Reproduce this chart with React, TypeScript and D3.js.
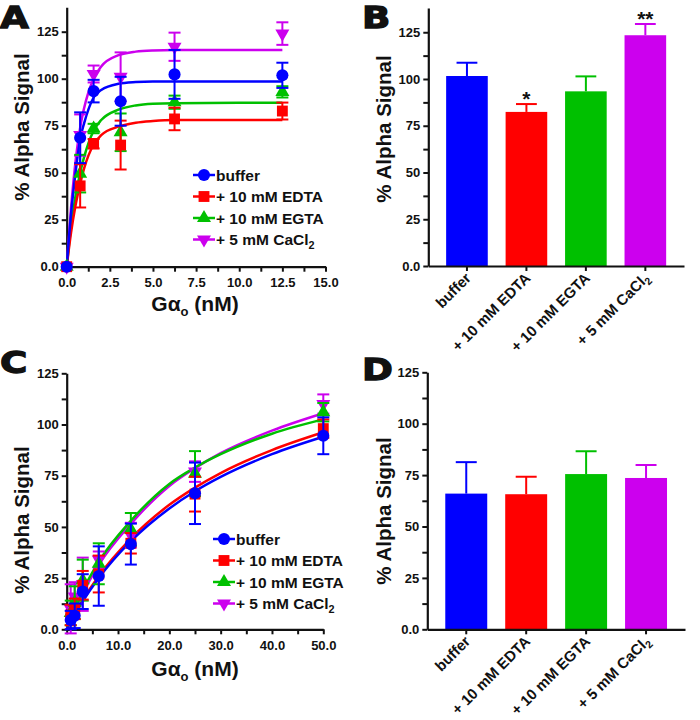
import { useEffect, useRef } from "react";
import * as d3 from "d3";

/** ---- Values ---- **/
const groups = ["buffer", "+ 10 mM EDTA", "+ 10 mM EGTA", "+ 5 mM CaCl2"];
const colors = ["#0000ff", "#ff0000", "#00c000", "#cc00ee"];
const shapes = ["circle", "square", "triangle", "triangleDown"];

// Panel A: titration up to 12.5 nM
const concA = [0, 0.78, 1.56, 3.125, 6.25, 12.5];
const bufferA = [0, 68.6, 93.4, 88, 102.3, 101.8];
const bufferAErr = [0, 13.5, 6, 13, 13, 6.7];
const edtaA = [0, 43, 65.4, 64.7, 78.6, 82.8];
const edtaAErr = [0, 11.5, 2.5, 13, 6, 4.5];
const egtaA = [0, 49.5, 73.5, 71.5, 87.5, 93];
const egtaAErr = [0, 10, 2.5, 10, 3.5, 3];
const cacl2A = [0, 70, 102.5, 101, 117, 124];
const cacl2AErr = [0, 11, 4.5, 13, 7.5, 6];

// fitted curves, panel A (read at these x)
const fitXA = [0, 0.25, 0.5, 0.78, 1, 1.56, 2, 3, 4, 5, 6.25, 12.5];
const bufferFitA = [0, 28, 49, 68, 76, 90, 94, 97.3, 98.2, 98.5, 98.5, 98.5];
const edtaFitA = [0, 18, 32, 44, 52, 65, 70, 74.5, 76.6, 77.5, 78, 78];
const egtaFitA = [0, 21, 37, 50, 58, 72.3, 78, 83.5, 85.8, 86.7, 87, 87.2];
const cacl2FitA = [0, 31, 55, 74, 84, 100, 106.5, 112.5, 114.4, 115, 115.2, 115.2];

// Panel B: bars
const meansB = [101.6, 82.4, 93.4, 123.4];
const errB = [7.1, 4.2, 8, 6];
const sigB = ["", "*", "", "**"];

// Panel C: titration up to 50 nM
const concC = [0.78, 1.56, 3.125, 6.25, 12.5, 25, 50];
const bufferC = [4.5, 6.6, 18.4, 26, 41.6, 66.4, 94.5];
const bufferCErr = [4.5, 6, 8.5, 14.5, 10, 15, 9];
const edtaC = [7, 10, 21.5, 27, 42, 66, 98];
const edtaCErr = [5, 5, 7, 9, 5, 8.5, 4.5];
const egtaC = [8, 13, 24, 32, 48.8, 76, 106];
const egtaCErr = [6, 8, 10, 10, 8, 11, 4.5];
const cacl2C = [10, 16, 22, 34, 46, 77, 110];
const cacl2CErr = [12, 7, 13, 4, 6, 5, 4.7];

const fitXC = [0, 1, 3.125, 6.25, 12.5, 20, 25, 30, 40, 50];
const bufferFitC = [0, 4.6, 13.6, 25, 43, 59, 67.4, 74.4, 85.5, 94];
const edtaFitC = [0, 4.8, 14.2, 26, 44.3, 60.8, 69.2, 76.3, 87.5, 96.2];
const egtaFitC = [0, 6.6, 18.8, 33, 53, 71, 79, 85.5, 95.5, 102.5];
const cacl2FitC = [0, 6, 17.5, 31.5, 51.5, 70, 78.7, 86, 97, 105.5];

// Panel D: bars
const meansD = [66, 65.7, 75.5, 73.6];
const errD = [15.3, 8.5, 11.1, 6.3];
const sigD = ["", "", "", ""];

const FONT = "'Liberation Sans', Arial, Helvetica, sans-serif";
const INK = "#111";

type Sel = d3.Selection<any, any, any, any>;

function addLabel(t: Sel, text: string, subSize = "0.7em") {
  const m = text.match(/^(.*CaCl)2$/);
  if (m) {
    t.append("tspan").text(m[1]);
    t.append("tspan").attr("font-size", subSize).attr("dy", "0.35em").text("2");
  } else t.text(text);
}

function marker(g: Sel, shape: string, color: string, cx: number, cy: number) {
  const types: any = { circle: d3.symbolCircle, square: d3.symbolSquare, triangle: d3.symbolTriangle, triangleDown: d3.symbolTriangle };
  const sizes: any = { circle: 115, square: 118, triangle: 85, triangleDown: 85 };
  g.append("path")
    .attr("d", d3.symbol().type(types[shape]).size(sizes[shape])())
    .attr("fill", color)
    .attr("transform", `translate(${cx},${cy})${shape === "triangleDown" ? " rotate(180)" : ""}`);
}

function styleAxis(g: Sel) {
  g.select(".domain").attr("stroke", INK).attr("stroke-width", 2.2);
  g.selectAll(".tick line").attr("stroke", INK).attr("stroke-width", 2);
  g.selectAll(".tick text").attr("font-family", FONT).attr("font-weight", "bold").attr("font-size", 13).attr("fill", INK);
}

function yAxis(svg: Sel, y: any, x0: number) {
  const g = svg.append("g").attr("transform", `translate(${x0},0)`)
    .call(d3.axisLeft(y).tickValues(d3.range(0, 126, 12.5)).tickSize(5).tickSizeOuter(0).tickPadding(3)
      .tickFormat((d: any) => (d % 25 ? "" : d === 0 ? "0.0" : String(d))));
  styleAxis(g);
}

function yLabel(svg: Sel, x: number, y: number) {
  svg.append("text").attr("transform", `translate(${x},${y}) rotate(-90)`)
    .attr("text-anchor", "middle").attr("font-family", FONT).attr("font-weight", "bold")
    .attr("font-size", 20.5).attr("fill", INK).text("% Alpha Signal");
}

function xLabel(svg: Sel, x: number, y: number) {
  const t = svg.append("text").attr("x", x).attr("y", y).attr("text-anchor", "middle")
    .attr("font-family", FONT).attr("font-weight", "bold").attr("font-size", 21).attr("fill", INK);
  t.append("tspan").text("G\u03b1");
  t.append("tspan").attr("font-size", 13).attr("dy", 5).text("o");
  t.append("tspan").attr("dy", -5).text(" (nM)");
}

function letter(svg: Sel, ch: string, x: number, y: number) {
  svg.append("text").attr("transform", `translate(${x},${y}) scale(1.2,1)`)
    .attr("font-family", "'DejaVu Sans', sans-serif").attr("font-weight", "bold").attr("font-size", 31)
    .attr("fill", INK).attr("stroke", INK).attr("stroke-width", 1.3).text(ch);
}

function curvePanel(svg: Sel, o: any) {
  const { x, y, conc, fitX, vals, errs, fits, xTicks, labelStep, lx, ly } = o;
  const gx = svg.append("g").attr("transform", `translate(0,${y(0)})`)
    .call(d3.axisBottom(x).tickValues(xTicks).tickSize(5).tickSizeOuter(0).tickPadding(6)
      .tickFormat((d: any) => (d % labelStep ? "" : d3.format(".1f")(d))));
  styleAxis(gx);
  yAxis(svg, y, x(0));

  const line = d3.line<number[]>().x(d => x(d[0])).y(d => y(d[1])).curve(d3.curveMonotoneX);
  const order = [3, 2, 1, 0];
  order.forEach(i => {
    svg.append("path").datum(fitX.map((c: number, j: number) => [c, fits[i][j]]))
      .attr("d", line).attr("fill", "none").attr("stroke", colors[i]).attr("stroke-width", 2.5);
  });
  order.forEach(i => {
    const g = svg.append("g");
    conc.forEach((c: number, j: number) => {
      const m = vals[i][j], e = errs[i][j], cx = x(c);
      if (e > 0) {
        g.append("line").attr("x1", cx).attr("x2", cx).attr("y1", y(m - e)).attr("y2", y(m + e))
          .attr("stroke", colors[i]).attr("stroke-width", 2);
        [m - e, m + e].forEach(v => g.append("line").attr("x1", cx - 6).attr("x2", cx + 6)
          .attr("y1", y(v)).attr("y2", y(v)).attr("stroke", colors[i]).attr("stroke-width", 2));
      }
      marker(g, shapes[i], colors[i], cx, y(m));
    });
  });

  groups.forEach((name, i) => {
    const cy = ly + i * 21.5;
    svg.append("line").attr("x1", lx).attr("x2", lx + 22).attr("y1", cy).attr("y2", cy)
      .attr("stroke", colors[i]).attr("stroke-width", 2.5);
    marker(svg, shapes[i], colors[i], lx + 11, cy);
    const t = svg.append("text").attr("x", lx + 23).attr("y", cy + 5.5)
      .attr("font-family", FONT).attr("font-weight", "bold").attr("font-size", 15.5).attr("fill", INK);
    addLabel(t, name);
  });
}

function barPanel(svg: Sel, o: any) {
  const { x0, x1, y, means, errs, sig } = o;
  const xb = d3.scaleBand().domain(groups).range([x0, x1]).padding(0.3);
  const bw = xb.bandwidth();
  groups.forEach((gname, i) => {
    const bx = xb(gname)!, cx = bx + bw / 2;
    svg.append("rect").attr("x", bx).attr("width", bw).attr("y", y(means[i]))
      .attr("height", y(0) - y(means[i])).attr("fill", colors[i]);
    const top = y(means[i] + errs[i]);
    svg.append("line").attr("x1", cx).attr("x2", cx).attr("y1", y(means[i])).attr("y2", top)
      .attr("stroke", colors[i]).attr("stroke-width", 2);
    svg.append("line").attr("x1", cx - bw / 4).attr("x2", cx + bw / 4).attr("y1", top).attr("y2", top)
      .attr("stroke", colors[i]).attr("stroke-width", 2);
    if (sig[i]) {
      svg.append("text").attr("x", cx).attr("y", top + 2).attr("text-anchor", "middle")
        .attr("font-family", FONT).attr("font-weight", "bold").attr("font-size", 21).attr("fill", INK).text(sig[i]);
    }
    const t = svg.append("text").attr("transform", `translate(${cx + 5},${y(0) + 13}) rotate(-45)`)
      .attr("text-anchor", "end").attr("font-family", FONT).attr("font-weight", "bold")
      .attr("font-size", 15).attr("fill", INK);
    addLabel(t, gname);
  });
  const gx = svg.append("g").attr("transform", `translate(0,${y(0)})`)
    .call(d3.axisBottom(xb).tickSize(5).tickSizeOuter(0).tickFormat(() => ""));
  styleAxis(gx);
  yAxis(svg, y, x0);
}

export default function App() {
  const ref = useRef<SVGSVGElement>(null);

  useEffect(() => {
    const svg = d3.select(ref.current);
    svg.selectAll("*").remove();

    // ---- A ----
    const xA = d3.scaleLinear().domain([0, 15]).range([66.7, 325.5]);
    const yA = d3.scaleLinear().domain([0, 138]).range([266.7, 266.7 - 138 * 1.88]);
    curvePanel(svg, {
      x: xA, y: yA, conc: concA, fitX: fitXA,
      vals: [bufferA, edtaA, egtaA, cacl2A],
      errs: [bufferAErr, edtaAErr, egtaAErr, cacl2AErr],
      fits: [bufferFitA, edtaFitA, egtaFitA, cacl2FitA],
      xTicks: d3.range(0, 15.01, 1.25), labelStep: 2.5, lx: 193, ly: 175,
    });
    yLabel(svg, 29, 127);
    xLabel(svg, 195, 311);
    letter(svg, "A", 0, 28);

    // ---- B ----
    const yB = d3.scaleLinear().domain([0, 138]).range([266, 266 - 138 * 1.87]);
    barPanel(svg, { x0: 428.3, x1: 684, y: yB, means: meansB, errs: errB, sig: sigB });
    yLabel(svg, 391, 129);
    letter(svg, "B", 362, 28);

    // ---- C ----
    const xC = d3.scaleLinear().domain([0, 50]).range([66.7, 323.3]);
    const yC = d3.scaleLinear().domain([0, 125]).range([629.3, 373.3]);
    curvePanel(svg, {
      x: xC, y: yC, conc: concC, fitX: fitXC,
      vals: [bufferC, edtaC, egtaC, cacl2C],
      errs: [bufferCErr, edtaCErr, egtaCErr, cacl2CErr],
      fits: [bufferFitC, edtaFitC, egtaFitC, cacl2FitC],
      xTicks: d3.range(0, 50.01, 5), labelStep: 10, lx: 213, ly: 539,
    });
    yLabel(svg, 29, 520);
    xLabel(svg, 195, 676);
    letter(svg, "C", 0, 373);

    // ---- D ----
    const yD = d3.scaleLinear().domain([0, 125]).range([629.3, 372.3]);
    barPanel(svg, { x0: 427.3, x1: 685, y: yD, means: meansD, errs: errD, sig: sigD });
    yLabel(svg, 391, 511);
    letter(svg, "D", 362, 380);
  }, []);

  return (
    <svg ref={ref} width={700} height={720}
      style={{ position: "absolute", left: 0, top: 0, background: "#fff" }} />
  );
}
